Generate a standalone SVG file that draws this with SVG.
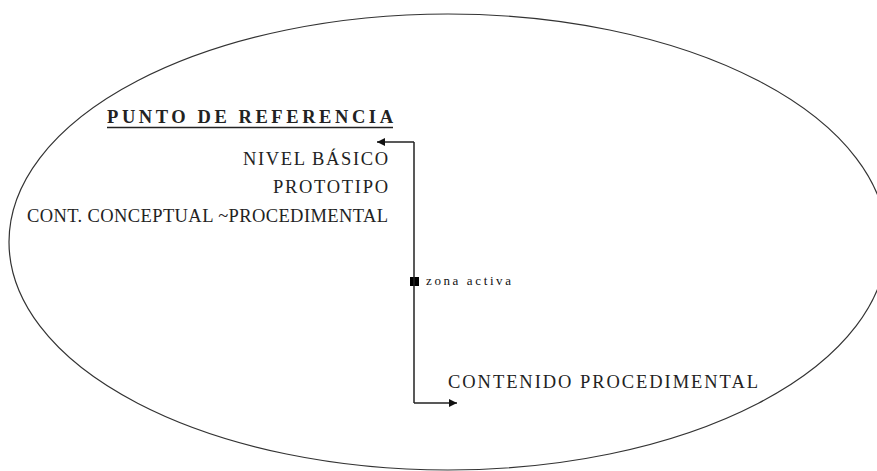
<svg xmlns="http://www.w3.org/2000/svg" width="877" height="471" viewBox="0 0 877 471">
<style>
  .t { font-family: "Liberation Serif", "Times New Roman", serif; font-size: 18.5px; fill: #222; }
  .small { font-family: "Liberation Serif", "Times New Roman", serif; font-size: 13px; fill: #111; }
  .ln { stroke: #222; stroke-width: 1.5; fill: none; }
</style>
<defs>
  <marker id="arr" viewBox="0 0 10 10" refX="10" refY="5" markerWidth="10" markerHeight="8" markerUnits="userSpaceOnUse" orient="auto">
    <path d="M0,0 L10,5 L0,10 Z" fill="#111"/>
  </marker>
</defs>
<rect width="877" height="471" fill="#fff"/>
<g id="ellipse">
  <ellipse cx="448" cy="242" rx="439" ry="228" fill="none" stroke="#333" stroke-width="1.2"/>
</g>
<g id="punto-de-referencia">
  <text class="t" x="107" y="123" font-weight="bold" textLength="286" lengthAdjust="spacing">PUNTO DE REFERENCIA</text>
  <line x1="107" y1="127.5" x2="393" y2="127.5" stroke="#222" stroke-width="1.6"/>
</g>
<g id="nivel-basico">
  <text class="t" x="243" y="165" textLength="145" lengthAdjust="spacing">NIVEL BÁSICO</text>
</g>
<g id="prototipo">
  <text class="t" x="273" y="193" textLength="115" lengthAdjust="spacing">PROTOTIPO</text>
</g>
<g id="cont-conceptual">
  <text class="t" x="27" y="222" textLength="361" lengthAdjust="spacing">CONT. CONCEPTUAL ~PROCEDIMENTAL</text>
</g>
<g id="contenido-procedimental">
  <text class="t" x="448" y="388" textLength="310" lengthAdjust="spacing">CONTENIDO PROCEDIMENTAL</text>
</g>
<g id="zona-activa">
  <rect x="410" y="277" width="9" height="9" fill="#000"/>
  <text class="small" x="426" y="285" textLength="85" lengthAdjust="spacing">zona activa</text>
</g>
<g id="connectors">
  <path class="ln" d="M414,142 L414,403"/>
  <path class="ln" d="M414,142 L377,142" marker-end="url(#arr)"/>
  <path class="ln" d="M414,403 L457,403" marker-end="url(#arr)"/>
</g>
</svg>
